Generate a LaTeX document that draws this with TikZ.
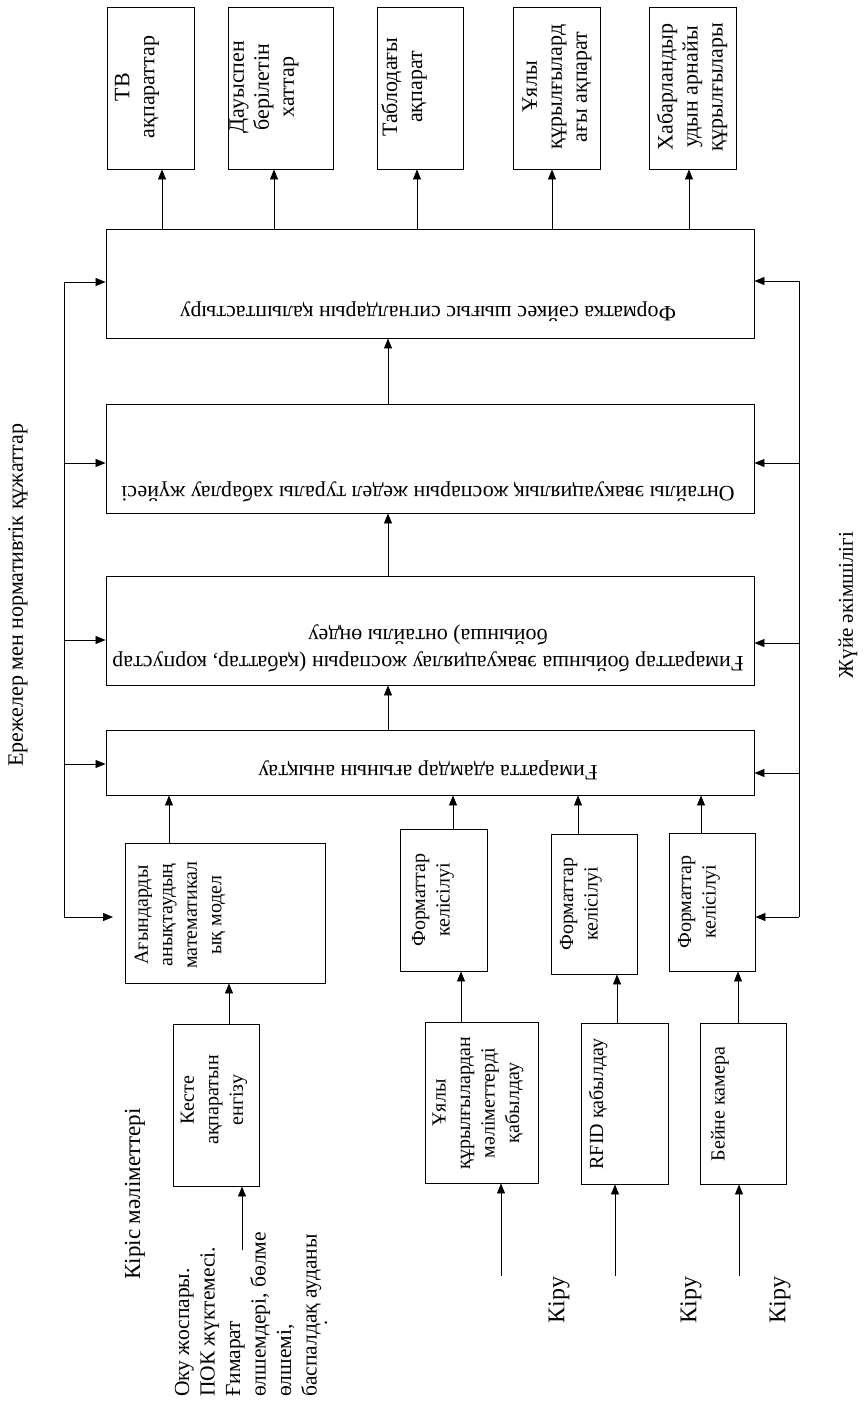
\documentclass[tikz,border=0pt]{standalone}
\usepackage{fontspec}
\setmainfont{Liberation Serif}
\usetikzlibrary{arrows.meta}
\begin{document}
\begin{tikzpicture}[x=1pt,y=-1pt,
  blk/.style={draw, line width=0.9pt, inner sep=0pt},
  lnk/.style={line width=0.8pt, -{Triangle[length=10pt,width=8pt]}},
  bus/.style={line width=0.8pt},
  vtxt/.style={rotate=90, align=center, inner sep=0pt, font=\fontsize{20}{24.5}\selectfont},
  toptxt/.style={vtxt, font=\fontsize{22}{25}\selectfont},
  htxt/.style={rotate=180, align=center, inner sep=0pt, font=\fontsize{22}{27}\selectfont},
  bigtxt/.style={rotate=90, inner sep=0pt, font=\fontsize{24}{28}\selectfont}]
\useasboundingbox (0,0) rectangle (863,1403);

% output devices
\node[blk, minimum width=87pt,  minimum height=162pt] (tb)  at (150.5,88) {};
\node[blk, minimum width=105pt, minimum height=162pt] (dau) at (280.5,88) {};
\node[blk, minimum width=86pt,  minimum height=162pt] (tab) at (420,88)   {};
\node[blk, minimum width=87pt,  minimum height=162pt] (uyo) at (556.5,88) {};
\node[blk, minimum width=87pt,  minimum height=162pt] (xab) at (692.5,88) {};
\node[toptxt] (tbT)  at (137,87) {ТВ\\ақпараттар};
\node[toptxt] (dauT) at (264,87) {Дауыспен\\берілетін\\хаттар};
\node[toptxt] (tabT) at (404,87) {Таблодағы\\ақпарат};
\node[toptxt] (uyoT) at (557,87) {Ұялы\\құрылғылард\\ағы ақпарат};
\node[toptxt] (xabT) at (692,87) {Хабарландыр\\удын арнайы\\құрылғылары};

% processing stages
\node[blk, minimum width=648pt, minimum height=109pt] (w1) at (430,283.5) {};
\node[blk, minimum width=648pt, minimum height=109pt] (w2) at (430,458.5) {};
\node[blk, minimum width=648pt, minimum height=109pt] (w3) at (430,630.5) {};
\node[blk, minimum width=648pt, minimum height=65pt]  (w4) at (430,762.5) {};
\node[htxt] (w1T) at (428,312) {Форматка сәйкес шығыс сигналдарын қалыптастыру};
\node[htxt] (w2T) at (428,492) {Онтайлы эвакуациялық жоспарын жедел туралы хабарлау жүйесі};
\node[htxt] (w3T) at (428,648) {Ғимараттар бойынша эвакуациялау жоспарын (қабаттар, корпустар\\бойынша) онтайлы өңдеу};
\node[htxt] (w4T) at (428,770) {Ғимаратта адамдар ағынын анықтау};

% model and format blocks
\node[blk, minimum width=200pt, minimum height=140pt] (ag) at (225,913) {};
\node[blk, minimum width=87pt,  minimum height=142pt] (f1) at (443.5,900) {};
\node[blk, minimum width=86pt,  minimum height=140pt] (f2) at (594,904) {};
\node[blk, minimum width=86pt,  minimum height=138pt] (f3) at (712,902) {};
\node[vtxt] (agT) at (180,915) {Ағындарды\\анықтаудың\\математикал\\ық модел};
\node[vtxt] (f1T) at (433,900) {Форматтар\\келісілуі};
\node[vtxt] (f2T) at (581,904) {Форматтар\\келісілуі};
\node[vtxt] (f3T) at (699,902) {Форматтар\\келісілуі};

% input blocks
\node[blk, minimum width=86pt,  minimum height=162pt] (kes) at (216,1105) {};
\node[blk, minimum width=113pt, minimum height=161pt] (uyd) at (481.5,1102.5) {};
\node[blk, minimum width=87pt,  minimum height=161pt] (rf)  at (624.5,1103.5) {};
\node[blk, minimum width=86pt,  minimum height=161pt] (be)  at (743,1103.5) {};
\node[vtxt] (kesT) at (214,1100) {Кесте\\ақпаратын\\енгізу};
\node[vtxt] (uydT) at (478,1103) {Ұялы\\құрылғылардан\\мәліметтерді\\қабылдау};
\node[vtxt] (rfT)  at (598,1104) {RFID қабылдау};
\node[vtxt] (beT)  at (720,1104) {Бейне камера};

% free labels
\node[vtxt, font=\fontsize{22}{26}\selectfont] (rules) at (18,595) {Ережелер мен нормативтік құжаттар};
\node[vtxt, font=\fontsize{21}{25}\selectfont] (admin) at (848,605) {Жүйе әкімшілігі};
\node[vtxt, font=\fontsize{23}{27}\selectfont] (kiris) at (135,1194) {Кіріс мәліметтері};
\node[vtxt, font=\fontsize{21.5}{25.5}\selectfont, align=left, anchor=west] (src) at (248,1397) {Оку жоспары.\\ПОК жүктемесі.\\Ғимарат\\өлшемдері, бөлме\\өлшемі,\\баспалдақ ауданы};
\node[vtxt] (dot) at (326,1323) {.};
\node[bigtxt] (k1) at (559,1300) {Кіру};
\node[bigtxt] (k2) at (691,1300) {Кіру};
\node[bigtxt] (k3) at (780,1300) {Кіру};

% connector positions
\coordinate (x1) at (162,0);
\coordinate (x2) at (274,0);
\coordinate (x3) at (417,0);
\coordinate (x4) at (552,0);
\coordinate (x5) at (689,0);
\coordinate (xm) at (388,0);
\coordinate (xa) at (169,0);
\coordinate (xb) at (453,0);
\coordinate (xc) at (578,0);
\coordinate (xd) at (701,0);
\coordinate (xk) at (229,0);
\coordinate (xu) at (461,0);
\coordinate (xr) at (617,0);
\coordinate (xe) at (738,0);

% outputs
\draw[lnk] (w1.north -| x1) -- (tb.south -| x1);
\draw[lnk] (w1.north -| x2) -- (dau.south -| x2);
\draw[lnk] (w1.north -| x3) -- (tab.south -| x3);
\draw[lnk] (w1.north -| x4) -- (uyo.south -| x4);
\draw[lnk] (w1.north -| x5) -- (xab.south -| x5);

% stage chain
\draw[lnk] (w2.north -| xm) -- (w1.south -| xm);
\draw[lnk] (w3.north -| xm) -- (w2.south -| xm);
\draw[lnk] (w4.north -| xm) -- (w3.south -| xm);
\draw[lnk] (ag.north -| xa) -- (w4.south -| xa);
\draw[lnk] (f1.north -| xb) -- (w4.south -| xb);
\draw[lnk] (f2.north -| xc) -- (w4.south -| xc);
\draw[lnk] (f3.north -| xd) -- (w4.south -| xd);
\draw[lnk] (kes.north -| xk) -- (ag.south -| xk);
\draw[lnk] (uyd.north -| xu) -- (f1.south -| xu);
\draw[lnk] (rf.north -| xr) -- (f2.south -| xr);
\draw[lnk] (be.north -| xe) -- (f3.south -| xe);

% inputs
\coordinate (i0) at (242,1250);
\coordinate (i1) at (501,1276);
\coordinate (i2) at (615,1276);
\coordinate (i3) at (739,1276);
\draw[lnk] (i0) -- (i0 |- kes.south);
\draw[lnk] (i1) -- (i1 |- uyd.south);
\draw[lnk] (i2) -- (i2 |- rf.south);
\draw[lnk] (i3) -- (i3 |- be.south);

% regulations bus (left)
\coordinate (l1) at (64,282);
\coordinate (l2) at (64,463);
\coordinate (l3) at (64,640);
\coordinate (l4) at (64,764);
\coordinate (l5) at (64,917);
\coordinate (l5e) at (113,917);
\draw[bus] (l1) -- (l5);
\draw[lnk] (l1) -- (l1 -| w1.west);
\draw[lnk] (l2) -- (l2 -| w2.west);
\draw[lnk] (l3) -- (l3 -| w3.west);
\draw[lnk] (l4) -- (l4 -| w4.west);
\draw[lnk] (l5) -- (l5e);

% administration bus (right)
\coordinate (r1) at (799,281);
\coordinate (r2) at (799,463);
\coordinate (r3) at (799,643);
\coordinate (r4) at (799,773);
\coordinate (r5) at (799,917);
\draw[bus] (r1) -- (r5);
\draw[lnk] (r1) -- (r1 -| w1.east);
\draw[lnk] (r2) -- (r2 -| w2.east);
\draw[lnk] (r3) -- (r3 -| w3.east);
\draw[lnk] (r4) -- (r4 -| w4.east);
\draw[lnk] (r5) -- (r5 -| f3.east);
\end{tikzpicture}
\end{document}
